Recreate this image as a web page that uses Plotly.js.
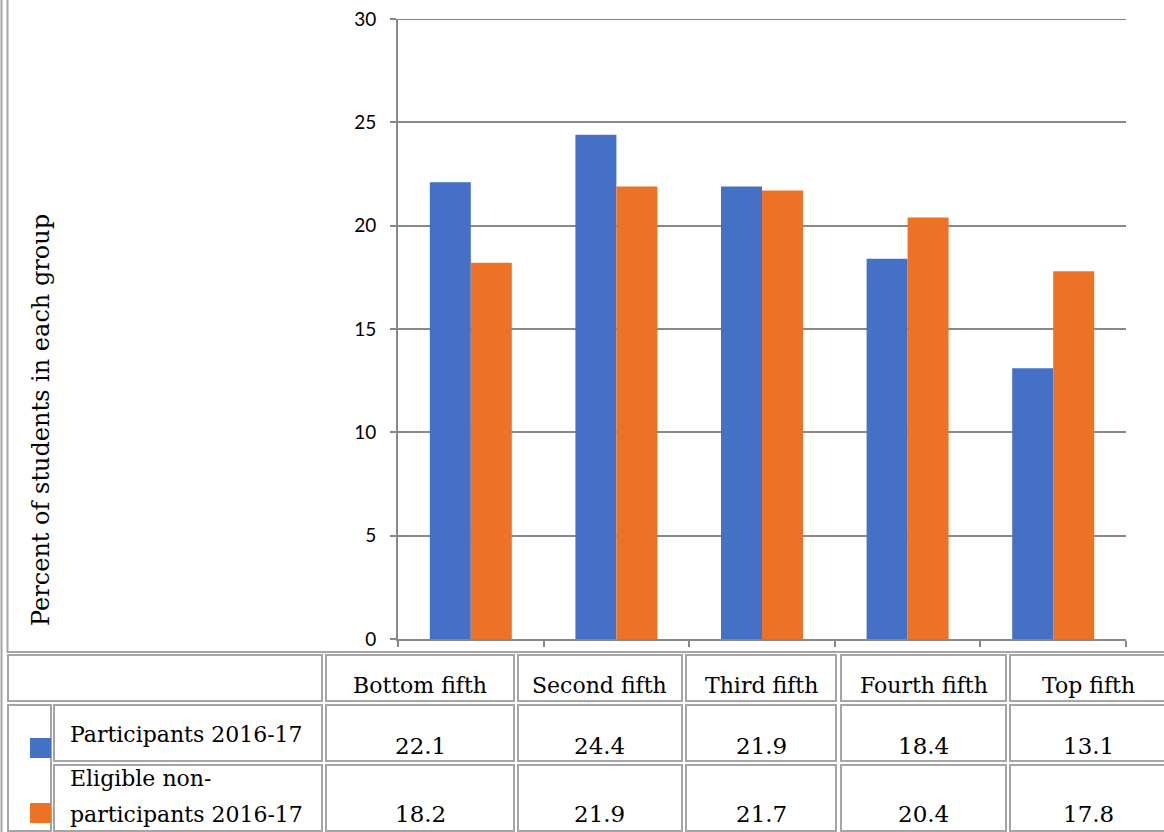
<!DOCTYPE html>
<html>
<head>
<meta charset="utf-8">
<script src="https://cdn.plot.ly/plotly-3.0.1.min.js"></script>
<style>
  html, body { margin: 0; padding: 0; background: #ffffff; }
  #chart { width: 1164px; height: 832px; }
</style>
</head>
<body>
<div id="chart"></div>
<script>
// ---- data ----
const categories = ['Bottom fifth', 'Second fifth', 'Third fifth', 'Fourth fifth', 'Top fifth'];
const participants = [22.1, 24.4, 21.9, 18.4, 13.1];
const nonParticipants = [18.2, 21.9, 21.7, 20.4, 17.8];
const seriesNames = ['Participants 2016-17', 'Eligible non-participants 2016-17'];
const seriesLabelLines = [['Participants 2016-17'], ['Eligible non-', 'participants 2016-17']];
const yTickVals = [0, 5, 10, 15, 20, 25, 30];
const yAxisTitle = 'Percent of students in each group';

// ---- styling ----
const W = 1164, H = 832;
const blue = '#4470c6';
const orange = '#ec7326';
const gridGray = '#888888';
const borderGray = '#a5a5a5';
const serif = 'DejaVu Serif';
const X = px => px / W;
const Y = py => 1 - py / H;

const traces = [
  { type: 'bar', x: categories, y: participants, name: seriesNames[0],
    marker: { color: blue }, hoverinfo: 'skip' },
  { type: 'bar', x: categories, y: nonParticipants, name: seriesNames[1],
    marker: { color: orange }, hoverinfo: 'skip' }
];

// table geometry (pixel positions)
const colX = [[326, 514], [518, 682], [686, 836], [841, 1006], [1010, 1166]];
const headerRow = [655, 701];
const rowsY = [[705, 761], [765, 831]];
const valueMidY = [746, 814];
const labelCell = [54, 322];
const legendCell = [8, 51];

const shapes = [];
// top gridline (at the top of the axis range)
shapes.push({ type: 'line', xref: 'x domain', yref: 'y', x0: 0, x1: 1,
  y0: yTickVals[yTickVals.length - 1], y1: yTickVals[yTickVals.length - 1],
  line: { color: gridGray, width: 2 }, layer: 'below' });
const rect = (x0, y0, x1, y1) => shapes.push({
  type: 'rect', xref: 'paper', yref: 'paper',
  x0: X(x0), x1: X(x1), y0: Y(y1), y1: Y(y0),
  line: { color: borderGray, width: 2 }, fillcolor: 'rgba(0,0,0,0)', layer: 'above'
});
// outer table border
shapes.push({ type: 'line', xref: 'paper', yref: 'paper', x0: X(1.5), x1: X(1.5), y0: Y(840), y1: Y(-10),
  line: { color: borderGray, width: 2 } });
// chart cell
rect(7.5, -10, 1175, 652);
// header row
rect(legendCell[0], headerRow[0], labelCell[1], headerRow[1]);
colX.forEach(c => rect(c[0], headerRow[0], c[1], headerRow[1]));
// legend cell spanning two rows
rect(legendCell[0], rowsY[0][0], legendCell[1], rowsY[1][1]);
rowsY.forEach(r => {
  rect(labelCell[0], r[0], labelCell[1], r[1]);
  colX.forEach(c => rect(c[0], r[0], c[1], r[1]));
});
// legend swatches
const swatchY = [[738, 758], [803, 823]];
[blue, orange].forEach((col, i) => shapes.push({
  type: 'rect', xref: 'paper', yref: 'paper',
  x0: X(30), x1: X(51), y0: Y(swatchY[i][1]), y1: Y(swatchY[i][0]),
  line: { width: 0 }, fillcolor: col, layer: 'above'
}));

const annotations = [];
const txt = (text, x, y, size, anchor) => annotations.push({
  text, xref: 'paper', yref: 'paper', x: X(x), y: Y(y), showarrow: false,
  xanchor: anchor || 'center', yanchor: 'middle',
  font: { family: serif, size, color: '#000000' }
});
// headers
categories.forEach((c, i) => txt(c, (colX[i][0] + colX[i][1]) / 2, 685, 22));
// values
[participants, nonParticipants].forEach((arr, r) =>
  arr.forEach((v, i) => txt(v.toFixed(1), (colX[i][0] + colX[i][1]) / 2, valueMidY[r], 23)));
// row labels
txt(seriesLabelLines[0][0], 68, 734, 22, 'left');
txt(seriesLabelLines[1][0], 68, 778, 22, 'left');
txt(seriesLabelLines[1][1], 68, 814, 22, 'left');
// y axis title
annotations.push({
  text: yAxisTitle, xref: 'paper', yref: 'paper', x: X(41), y: Y(420),
  showarrow: false, textangle: -90, xanchor: 'center', yanchor: 'middle',
  font: { family: serif, size: 24, color: '#000000' }
});

const layout = {
  width: W, height: H,
  margin: { l: 0, r: 0, t: 0, b: 0 },
  paper_bgcolor: '#ffffff', plot_bgcolor: '#ffffff',
  showlegend: false,
  barmode: 'group', bargap: 0.437, bargroupgap: 0,
  xaxis: {
    type: 'category', domain: [X(398), X(1126)],
    showline: true, linecolor: gridGray, linewidth: 2,
    ticks: 'outside', tickson: 'boundaries', ticklen: 6, tickcolor: gridGray, tickwidth: 2,
    showticklabels: false, showgrid: false, zeroline: false
  },
  yaxis: {
    range: [0, 30], domain: [Y(639), Y(19)],
    tickvals: yTickVals, ticktext: yTickVals.map(String),
    showgrid: true, gridcolor: gridGray, gridwidth: 2,
    showline: true, linecolor: gridGray, linewidth: 2,
    ticks: 'outside', ticklen: 6, tickcolor: gridGray, tickwidth: 2,
    ticklabelstandoff: 10,
    tickfont: { family: 'Lato, Carlito, sans-serif', size: 19, color: '#000000' },
    zeroline: false
  },
  shapes, annotations
};

Plotly.newPlot('chart', traces, layout, { displayModeBar: false, staticPlot: true });
</script>
</body>
</html>
